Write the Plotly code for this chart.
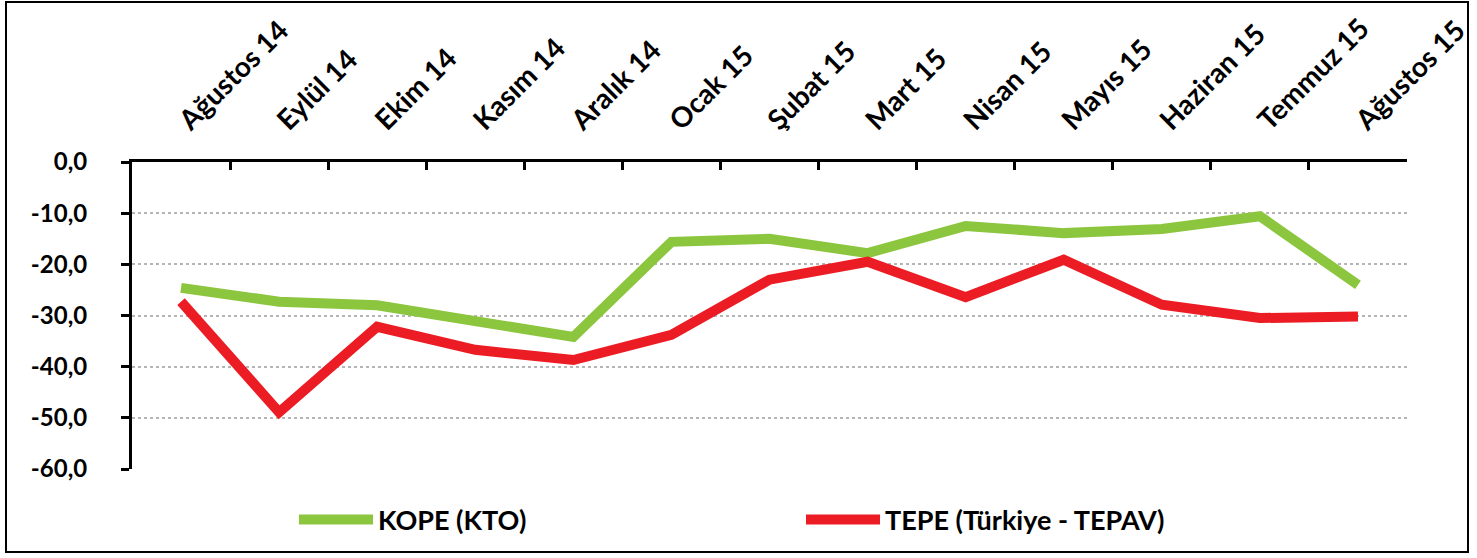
import plotly.graph_objects as go

# Dados
aylar = ["Ağustos 14", "Eylül 14", "Ekim 14", "Kasım 14", "Aralık 14", "Ocak 15",
         "Şubat 15", "Mart 15", "Nisan 15", "Mayıs 15", "Haziran 15", "Temmuz 15",
         "Ağustos 15"]
kope = [-24.6, -27.3, -28.0, -30.9, -34.2, -15.6, -15.0, -17.8, -12.5, -13.9,
        -13.1, -10.6, -24.0]
tepe = [-27.3, -48.9, -32.2, -36.7, -38.7, -33.8, -23.0, -19.5, -26.4, -19.1,
        -27.9, -30.5, -30.2]
y_ticks = [0, -10, -20, -30, -40, -50, -60]
y_labels = ["0,0", "-10,0", "-20,0", "-30,0", "-40,0", "-50,0", "-60,0"]

W, H = 1477, 558
ml, mr, mt, mb = 132, 70, 162, 89
pw, ph = W - ml - mr, H - mt - mb


def px_x(p):
    return (p - ml) / pw


def px_y(p):
    return (H - mb - p) / ph


fonte_y = dict(family="Lato", size=24, color="black", weight="bold")
fonte_x = dict(family="Lato", size=28, color="black", weight="bold")
fonte_leg = dict(family="Lato", size=27, color="black", weight="bold")

fig = go.Figure()
fig.add_trace(go.Scatter(x=aylar, y=kope, mode="lines", name="KOPE (KTO)",
                         line=dict(color="#8cc63f", width=10), legend="legend"))
fig.add_trace(go.Scatter(x=aylar, y=tepe, mode="lines", name="TEPE (Türkiye - TEPAV)",
                         line=dict(color="#ec1c24", width=10), legend="legend2"))

fig.update_layout(
    width=W, height=H,
    margin=dict(l=ml, r=mr, t=mt, b=mb, autoexpand=False),
    paper_bgcolor="white", plot_bgcolor="white",
    font=fonte_y,
    showlegend=True,
    legend=dict(x=px_x(294), xanchor="left", y=px_y(520), yanchor="middle",
                itemwidth=74, font=fonte_leg, bgcolor="rgba(0,0,0,0)"),
    legend2=dict(x=px_x(801), xanchor="left", y=px_y(520), yanchor="middle",
                 itemwidth=74, font=fonte_leg, bgcolor="rgba(0,0,0,0)"),
    xaxis=dict(side="top", type="category", tickangle=-45, automargin=False,
               range=[-0.5, len(aylar) - 0.5],
               showline=True, linecolor="black", linewidth=3,
               ticks="inside", ticklen=8, tickwidth=3, tickcolor="black",
               tickson="boundaries", showgrid=False, zeroline=False,
               tickfont=fonte_x, ticklabelstandoff=12),
    yaxis=dict(range=[-60, 0], tickvals=y_ticks, ticktext=y_labels, automargin=False,
               showline=True, linecolor="black", linewidth=3,
               ticks="outside", ticklen=8, tickwidth=3, tickcolor="black",
               showgrid=True, gridcolor="#b5b5b5", griddash="dot", gridwidth=1.5,
               zeroline=False, tickfont=fonte_y, ticklabelstandoff=29),
    shapes=[dict(type="rect", xref="paper", yref="paper",
                 x0=px_x(6), x1=px_x(1468), y0=px_y(552), y1=px_y(2),
                 line=dict(color="black", width=2), layer="below")],
)

fig.write_html("out.html", config={"displayModeBar": False},
               post_script="document.body.style.margin='0';")
